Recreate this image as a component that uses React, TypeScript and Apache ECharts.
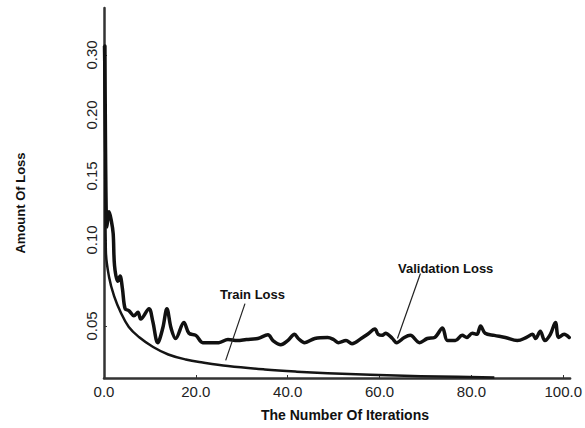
import React, { useEffect, useRef } from "react";
import * as echarts from "echarts";

// Iterations (x) and loss values
const trainX = [0, 0.2, 0.4, 1.1, 2.2, 3.7, 5.4, 7.6, 10.7, 14, 17.8, 21.5, 27, 35, 42, 48.7, 58, 69, 77, 85];
const trainLoss = [0.315, 0.2, 0.094, 0.0785, 0.0674, 0.0576, 0.049, 0.0394, 0.0298, 0.0226, 0.0178, 0.0149, 0.0115, 0.0082, 0.0061, 0.0046, 0.0031, 0.0017, 0.0011, 0.0006];

const valX = [0.2, 0.6, 0.9, 1.1, 1.6, 2, 2.3, 3, 3.5, 4, 4.6, 5.4, 6.5, 7.4, 8, 9.8, 10.6, 11.7, 12.8, 13.7, 14.6, 15.6, 17.4, 18.5, 20, 21.5, 22.6, 25, 27, 29, 31, 33.5, 35.7, 36.8, 38.5, 40, 41.5, 42.3, 43.7, 45.9, 48.7, 50, 51, 52.7, 54, 56, 57.4, 59, 59.7, 60.6, 61.3, 62.8, 63.7, 65.4, 66.7, 68.7, 70.4, 72, 73.7, 74.8, 76.5, 78, 79, 80.2, 81.2, 82, 83, 85, 87.4, 90, 92, 93.3, 94, 95, 96, 97.2, 98.3, 99, 100.2, 101.3];
const valLoss = [0.315, 0.11, 0.118, 0.122, 0.115, 0.105, 0.085, 0.076, 0.079, 0.072, 0.06, 0.059, 0.056, 0.058, 0.054, 0.06, 0.053, 0.034, 0.048, 0.06, 0.048, 0.038, 0.052, 0.043, 0.041, 0.034, 0.034, 0.034, 0.037, 0.036, 0.037, 0.038, 0.0415, 0.036, 0.032, 0.036, 0.042, 0.038, 0.034, 0.038, 0.039, 0.037, 0.034, 0.036, 0.033, 0.038, 0.042, 0.047, 0.042, 0.041, 0.043, 0.038, 0.034, 0.039, 0.041, 0.034, 0.038, 0.039, 0.048, 0.036, 0.036, 0.041, 0.039, 0.043, 0.042, 0.05, 0.043, 0.041, 0.039, 0.036, 0.039, 0.042, 0.038, 0.045, 0.036, 0.042, 0.052, 0.039, 0.042, 0.039];

const xTicks = [0, 20, 40, 60, 80, 100];
const yTickLoss = [0.05, 0.1, 0.15, 0.2, 0.3];
const yTickLabels = ["0.05", "0.10", "0.15", "0.20", "0.30"];

// The reference's loss axis is piecewise (non-uniform) — breakpoints of that scale
const lossBreaks = [0, 0.05, 0.1, 0.15, 0.2, 0.3];
const scaleBreaks = [0, 52, 138, 202, 263, 323];

function lossToScale(v: number): number {
  for (let i = 1; i < lossBreaks.length; i++) {
    if (v <= lossBreaks[i]) {
      const t = (v - lossBreaks[i - 1]) / (lossBreaks[i] - lossBreaks[i - 1]);
      return scaleBreaks[i - 1] + t * (scaleBreaks[i] - scaleBreaks[i - 1]);
    }
  }
  const n = lossBreaks.length - 1;
  const slope = (scaleBreaks[n] - scaleBreaks[n - 1]) / (lossBreaks[n] - lossBreaks[n - 1]);
  return scaleBreaks[n] + (v - lossBreaks[n]) * slope;
}

// annotation pointers: [x, loss] pairs
const trainPointer = [[30.7, 0.063], [26.5, 0.017]];
const valPointer = [[68.9, 0.0805], [63.9, 0.038]];

export default function App() {
  const ref = useRef<HTMLDivElement>(null);
  useEffect(() => {
    if (!ref.current) return;
    const chart = echarts.init(ref.current, null, { renderer: "svg" });
    const tickScale = yTickLoss.map(lossToScale);
    const font = "'Liberation Sans', Arial, sans-serif";
    chart.setOption({
      animation: false,
      backgroundColor: "#ffffff",
      grid: { left: 104, right: 12, top: 8, bottom: 50 },
      xAxis: {
        type: "value",
        min: 0,
        max: 101.5,
        splitLine: { show: false },
        axisLine: { show: true, onZero: false, lineStyle: { color: "#333", width: 2.5 } },
        axisTick: { show: true, inside: true, length: 3, customValues: xTicks, lineStyle: { color: "#333" } },
        axisLabel: {
          customValues: xTicks,
          formatter: (v: number) => v.toFixed(1),
          color: "#222",
          fontSize: 15,
          fontFamily: font,
          margin: 6,
        },
      },
      yAxis: {
        type: "value",
        min: 0,
        max: 370,
        splitLine: { show: false },
        axisLine: { show: true, lineStyle: { color: "#333", width: 2.5 } },
        axisTick: { show: true, inside: true, length: 3, customValues: tickScale, lineStyle: { color: "#333" } },
        axisLabel: {
          customValues: tickScale,
          formatter: (v: number) => {
            let best = 0;
            tickScale.forEach((s, i) => {
              if (Math.abs(s - v) < Math.abs(tickScale[best] - v)) best = i;
            });
            return yTickLabels[best];
          },
          rotate: 90,
          color: "#222",
          fontSize: 15,
          fontFamily: font,
          margin: 5,
        },
      },
      series: [
        {
          name: "Train Loss",
          type: "line",
          data: trainX.map((x, i) => [x, lossToScale(trainLoss[i])]),
          showSymbol: false,
          smooth: 0.4,
          lineStyle: { color: "#151515", width: 2.5, join: "round" },
          markLine: {
            silent: true,
            symbol: ["none", "none"],
            label: { show: false },
            lineStyle: { color: "#222", width: 1.2, type: "solid" },
            data: [[
              { coord: [trainPointer[0][0], lossToScale(trainPointer[0][1])] },
              { coord: [trainPointer[1][0], lossToScale(trainPointer[1][1])] },
            ]],
          },
        },
        {
          name: "Validation Loss",
          type: "line",
          data: valX.map((x, i) => [x, lossToScale(valLoss[i])]),
          showSymbol: false,
          smooth: 0.35,
          lineStyle: { color: "#111", width: 3.5, join: "round", cap: "round" },
          markLine: {
            silent: true,
            symbol: ["none", "none"],
            label: { show: false },
            lineStyle: { color: "#222", width: 1.2, type: "solid" },
            data: [[
              { coord: [valPointer[0][0], lossToScale(valPointer[0][1])] },
              { coord: [valPointer[1][0], lossToScale(valPointer[1][1])] },
            ]],
          },
        },
      ],
      graphic: [
        {
          type: "text",
          left: 220,
          top: 288,
          style: { text: "Train Loss", font: `bold 13px ${font}`, fill: "#111" },
        },
        {
          type: "text",
          left: 398,
          top: 262,
          style: { text: "Validation Loss", font: `bold 13px ${font}`, fill: "#111" },
        },
        {
          type: "text",
          x: 345,
          y: 415,
          style: { text: "The Number Of Iterations", font: `bold 14px ${font}`, fill: "#111", align: "center", verticalAlign: "middle" },
        },
        {
          type: "text",
          x: 20,
          y: 203,
          rotation: Math.PI / 2,
          style: { text: "Amount Of Loss", font: `bold 13px ${font}`, fill: "#111", align: "center", verticalAlign: "middle" },
        },
      ],
    });
    return () => chart.dispose();
  }, []);
  return <div ref={ref} style={{ position: "fixed", left: 0, top: 0, width: 585, height: 428 }} />;
}
